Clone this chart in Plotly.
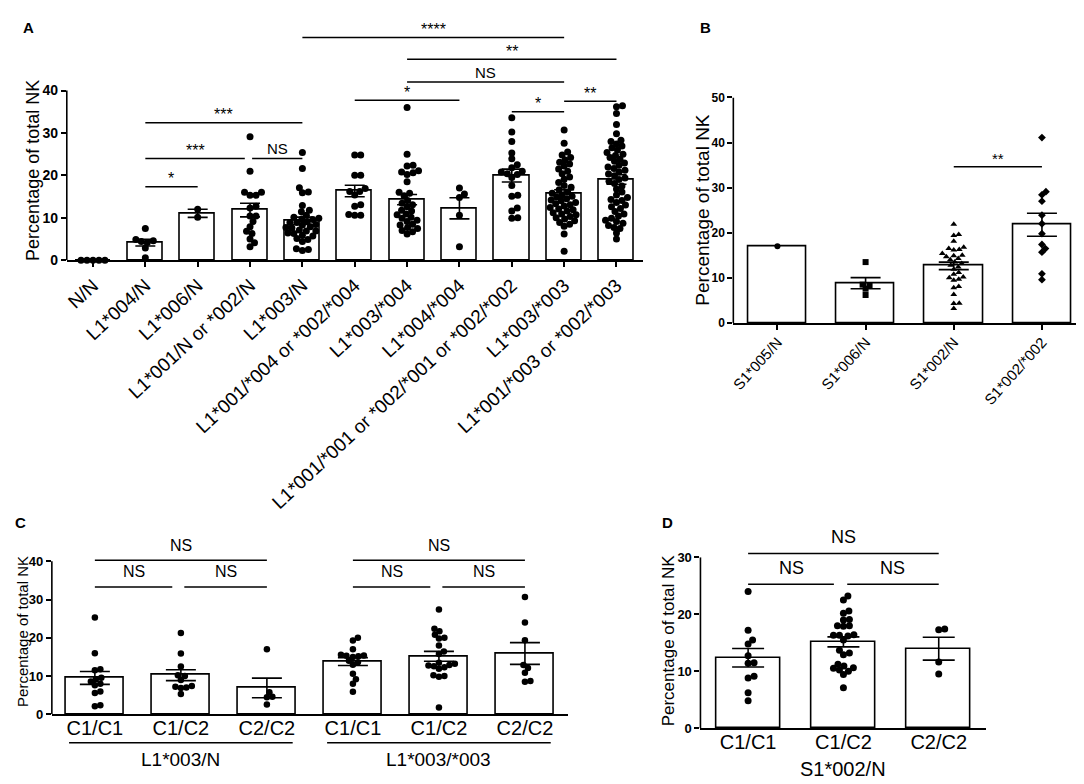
import numpy as np
import plotly.graph_objects as go

W, H = 1084, 784
FONT = "Liberation Sans, Arial, sans-serif"

# ---------------- Panel A data ----------------
A_cats = ["N/N", "L1*004/N", "L1*006/N", "L1*001/N or *002/N", "L1*003/N",
          "L1*001/*004 or *002/*004", "L1*003/*004", "L1*004/*004",
          "L1*001/*001 or *002/*001 or *002/*002", "L1*003/*003",
          "L1*001/*003 or *002/*003"]
A_NN = [0, 0, 0, 0, 0]
A_L004N = [7.5, 4.9, 4.6, 4.4, 4.2, 2.9, 0.6]
A_L006N = [12.0, 10.1]
A_L001N = [29.1, 21.0, 16.0, 15.3, 15.3, 16.0, 12.7, 12.3, 10.4, 10.4, 9.1, 7.9, 6.8, 6.3, 5.0, 4.1, 3.2]
A_L003N = [25.4, 21.6, 17.1, 16.1, 15.9, 12.9, 11.8, 11.4, 10.6, 10.1, 9.9, 9.7, 9.6, 9.1, 8.9, 8.9, 8.4,
           8.3, 7.9, 7.7, 7.6, 7.1, 6.9, 6.9, 6.4, 6.3, 5.9, 5.7, 5.1, 4.9, 4.4, 2.7, 2.5, 2.3]
A_L001_004 = [24.8, 24.8, 20.0, 20.0, 16.9, 16.2, 16.2, 15.4, 13.1, 12.7, 10.8, 10.6, 10.6]
A_L003_004 = [36.0, 25.0, 22.4, 22.2, 21.1, 20.8, 20.6, 20.2, 18.5, 16.0, 15.8, 15.2, 14.1, 13.4, 13.1, 12.6,
              11.8, 11.6, 10.9, 10.7, 10.1, 9.9, 9.4, 9.1, 8.5, 8.3, 7.7, 7.5, 7.0, 6.7, 6.2]
A_L004_004 = [17.0, 15.6, 14.8, 10.6, 3.2]
A_L001_001 = [33.6, 30.2, 28.0, 25.3, 23.9, 22.5, 21.8, 21.0, 20.8, 20.2, 19.5, 20.4, 17.6, 15.3, 15.1,
              12.3, 11.6, 9.9, 10.0]
A_L003_003 = [30.7, 27.6, 25.5, 24.8, 24.2, 23.6, 23.1, 22.7, 22.2, 21.5, 21.0, 20.4, 19.6, 19.1, 18.3, 17.6,
              17.2, 16.6, 16.1, 15.8, 15.4, 15.1, 14.9, 14.5, 14.2, 14.0, 13.6, 13.3, 13.1, 12.8, 12.4, 12.1,
              11.9, 11.6, 11.2, 10.9, 10.7, 10.3, 10.0, 9.7, 9.3, 8.9, 8.5, 8.0, 6.2, 2.1]
A_L001_003 = [36.4, 36.2, 34.6, 32.0, 29.8, 28.3, 28.0, 27.4, 26.9, 26.5, 26.0, 25.4, 25.0, 24.7, 24.2, 23.8,
              23.3, 22.9, 22.4, 22.0, 21.6, 21.2, 20.8, 20.3, 19.9, 19.4, 19.0, 18.6, 18.1, 17.5, 16.8, 16.1,
              15.4, 14.8, 14.3, 14.1, 13.6, 13.0, 12.6, 12.2, 11.5, 10.9, 10.4, 9.9, 9.4, 9.1, 8.7, 8.2, 7.7,
              7.5, 6.4, 5.0]
A_vals = [A_NN, A_L004N, A_L006N, A_L001N, A_L003N, A_L001_004, A_L003_004, A_L004_004,
          A_L001_001, A_L003_003, A_L001_003]
A_comps = [(1, 2, 17.3, "*"), (1, 3, 24.0, "***"), (3, 4, 24.0, "NS"), (1, 4, 32.4, "***"),
           (5, 7, 37.7, "*"), (8, 9, 35.0, "*"), (9, 10, 37.5, "**"), (6, 9, 42.0, "NS"),
           (6, 10, 47.4, "**"), (4, 9, 52.5, "****")]
A_yticks = [0, 10, 20, 30, 40]

# ---------------- Panel B data ----------------
B_cats = ["S1*005/N", "S1*006/N", "S1*002/N", "S1*002/*002"]
B_S005N = [17.0]
B_S006N = [13.5, 8.5, 8.3, 7.6, 6.2]
B_S002N = [21.9, 19.6, 19.4, 18.1, 16.8, 16.5, 16.3, 16.2, 15.4, 15.0, 14.9, 14.7, 14.3, 14.0, 13.5, 13.2,
           12.8, 12.4, 11.9, 11.2, 10.8, 10.2, 10.0, 9.7, 9.5, 8.1, 7.8, 6.3, 4.4, 4.3, 3.2]
B_S002_002 = [41.1, 29.1, 28.4, 27.0, 23.9, 22.0, 19.8, 17.4, 16.5, 15.7, 10.9, 9.6]
B_vals = [B_S005N, B_S006N, B_S002N, B_S002_002]
B_comps = [(2, 3, 34.6, "**")]
B_yticks = [0, 10, 20, 30, 40, 50]

# ---------------- Panel C data ----------------
C_cats = ["C1/C1", "C1/C2", "C2/C2", "C1/C1", "C1/C2", "C2/C2"]
C_groups = ["L1*003/N", "L1*003/*003"]
C_vals = [
    [25.3, 16.0, 11.8, 11.5, 9.6, 9.2, 8.6, 8.0, 7.6, 6.0, 5.6, 2.4, 2.1],
    [21.3, 15.9, 12.5, 10.2, 10.0, 9.0, 7.4, 7.2, 7.0, 6.9, 5.3],
    [17.0, 5.8, 4.6, 4.5, 2.6],
    [20.0, 19.3, 17.0, 15.6, 15.4, 15.3, 15.2, 15.0, 14.0, 13.6, 13.0, 10.6, 9.2, 8.0, 5.9],
    [27.4, 22.4, 21.7, 20.8, 20.0, 19.8, 18.0, 16.4, 15.8, 13.5, 13.2, 12.9, 12.8, 12.6, 12.3, 11.9,
     10.2, 10.0, 9.8, 1.8],
    [30.7, 24.0, 19.4, 12.9, 12.1, 10.9, 8.7, 8.5],
]
C_comps = [(0, 2, 40.3, "NS"), (0, 1, 33.3, "NS"), (1, 2, 33.3, "NS"),
           (3, 5, 40.3, "NS"), (3, 4, 33.3, "NS"), (4, 5, 33.3, "NS")]
C_yticks = [0, 10, 20, 30, 40]

# ---------------- Panel D data ----------------
D_cats = ["C1/C1", "C1/C2", "C2/C2"]
D_group = "S1*002/N"
D_vals = [
    [24.0, 17.2, 15.5, 14.8, 12.7, 11.5, 11.4, 9.1, 8.8, 6.2, 4.8],
    [23.2, 22.5, 20.6, 20.2, 19.1, 19.0, 18.0, 18.0, 17.9, 16.4, 16.3, 16.3, 16.2, 15.5, 13.7, 13.2,
     12.9, 11.2, 10.9, 10.6, 10.5, 10.2, 10.0, 9.4, 7.1],
    [17.3, 17.4, 11.6, 9.5],
]
D_comps = [(0, 2, 30.7, "NS"), (0, 1, 25.3, "NS"), (1, 2, 25.3, "NS")]
D_yticks = [0, 10, 20, 30]

Y_TITLE = "Percentage of total NK"


# ---------------- styling / layout config ----------------
def px2x(p):
    return p / W


def px2y(p):
    return 1 - p / H


panels = [
    dict(k="", cats=A_cats, vals=A_vals, comps=A_comps, yticks=A_yticks, yrange=[0, 56],
         xdom=[55 / W, 633 / W], ydom=[px2y(250), px2y(7.8)], symbols=["circle"] * 11, msize=7,
         barw=0.67, cap=10, tickangle=-43, xfont=19, yfont=14, xticks="outside", standoff=0,
         star_font=16, ns_font=15, shift=10, title_font=18, title_xy=(21, 158),
         letter="A", letter_xy=(17, 13)),
    dict(k="2", cats=B_cats, vals=B_vals, comps=B_comps, yticks=B_yticks, yrange=[0, 50],
         xdom=[724 / W, 1078 / W], ydom=[px2y(314), px2y(84)],
         symbols=["circle", "square", "triangle-up", "diamond"], msize=6,
         barw=0.66, cap=15, tickangle=-48, xfont=15, yfont=12, xticks="outside", standoff=-2,
         star_font=15, ns_font=14, shift=10, title_font=19, title_xy=(693, 199),
         letter="B", letter_xy=(696, 13)),
    dict(k="3", cats=C_cats, vals=C_vals, comps=C_comps, yticks=C_yticks, yrange=[0, 42],
         xdom=[40 / W, 558 / W], ydom=[px2y(713), px2y(549.2)], symbols=["circle"] * 6, msize=6.5,
         barw=0.67, cap=15, tickangle=0, xfont=20, yfont=13, xticks="", standoff=-5,
         star_font=16, ns_font=16, shift=15, title_font=15, title_xy=(11, 628),
         letter="C", letter_xy=(9, 517)),
    dict(k="4", cats=D_cats, vals=D_vals, comps=D_comps, yticks=D_yticks, yrange=[0, 32],
         xdom=[691 / W, 978 / W], ydom=[px2y(727), px2y(541.4)], symbols=["circle"] * 3, msize=7,
         barw=0.67, cap=16, tickangle=0, xfont=20, yfont=13, xticks="", standoff=-5,
         star_font=18, ns_font=18, shift=16, title_font=17, title_xy=(659, 638),
         letter="D", letter_xy=(658, 517)),
]


def swarm(values, diam, ypx):
    """Deterministic beeswarm offsets (pixels) for one column."""
    order = sorted(range(len(values)), key=lambda i: values[i])
    placed = []
    offs = [0.0] * len(values)
    step = 0.5
    for i in order:
        y = values[i] * ypx
        k = 0
        while True:
            c = 0.0 if k == 0 else ((k + 1) // 2) * step * (1 if k % 2 else -1)
            ok = True
            for (py, pxx) in placed:
                if (c - pxx) ** 2 + (y - py) ** 2 < diam ** 2:
                    ok = False
                    break
            if ok:
                break
            k += 1
        placed.append((y, c))
        offs[i] = c
    return offs


fig = go.Figure()
shapes = []
annotations = []
layout_axes = {}

for P in panels:
    k = P["k"]
    xa, ya = "x" + k, "y" + k
    n = len(P["cats"])
    xpx = (P["xdom"][1] - P["xdom"][0]) * W / n
    ypx = (P["ydom"][1] - P["ydom"][0]) * H / (P["yrange"][1] - P["yrange"][0])

    means = [float(np.mean(v)) for v in P["vals"]]
    sems = [float(np.std(v, ddof=1) / np.sqrt(len(v))) if len(v) > 1 else 0.0 for v in P["vals"]]

    fig.add_trace(go.Bar(x=list(range(n)), y=means, width=P["barw"], xaxis=xa, yaxis=ya,
                         marker=dict(color="white", line=dict(color="black", width=1.6)),
                         cliponaxis=False, hoverinfo="skip"))

    for i, v in enumerate(P["vals"]):
        offs = swarm(v, P["msize"] * 0.84, ypx)
        fig.add_trace(go.Scatter(x=[i + o / xpx for o in offs], y=v, mode="markers",
                                 xaxis=xa, yaxis=ya, cliponaxis=False, hoverinfo="skip",
                                 marker=dict(color="black", size=P["msize"], symbol=P["symbols"][i],
                                             line=dict(width=0))))

    ei = [i for i in range(n) if len(P["vals"][i]) > 1 and sems[i] > 0]
    fig.add_trace(go.Scatter(x=ei, y=[means[i] for i in ei], mode="markers", xaxis=xa, yaxis=ya,
                             marker=dict(size=1, color="rgba(0,0,0,0)"), cliponaxis=False,
                             hoverinfo="skip",
                             error_y=dict(type="data", array=[sems[i] for i in ei], color="black",
                                          thickness=1.6, width=P["cap"])))

    layout_axes["xaxis" + k] = dict(domain=P["xdom"], range=[-0.5, n - 0.5], anchor=ya,
                                    tickvals=list(range(n)), ticktext=P["cats"], ticks=P["xticks"],
                                    ticklen=5, tickwidth=1.5, tickcolor="black", showline=True,
                                    linecolor="black", linewidth=1.6, showgrid=False, zeroline=False,
                                    tickangle=P["tickangle"], fixedrange=True,
                                    ticklabelstandoff=P["standoff"],
                                    tickfont=dict(family=FONT, size=P["xfont"], color="black"))
    layout_axes["yaxis" + k] = dict(domain=P["ydom"], range=P["yrange"], anchor=xa,
                                    tickvals=P["yticks"], ticks="outside", ticklen=5, tickwidth=1.5,
                                    tickcolor="black", showline=False, showgrid=False, zeroline=False,
                                    fixedrange=True,
                                    tickfont=dict(family=FONT, size=P["yfont"], color="black",
                                                  weight="bold"))
    # y axis line only up to the last tick
    shapes.append(dict(type="line", xref=xa + " domain", yref=ya, x0=0, x1=0,
                       y0=P["yticks"][0], y1=P["yticks"][-1], line=dict(color="black", width=1.6)))

    # significance brackets
    for (a, b, h, lab) in P["comps"]:
        x0, x1 = a, b
        for (a2, b2, h2, _) in P["comps"]:
            if h2 == h and a2 == b:
                x1 -= 0.1
            if h2 == h and b2 == a:
                x0 += 0.04
        shapes.append(dict(type="line", xref=xa, yref=ya, x0=x0, x1=x1, y0=h, y1=h,
                           line=dict(color="black", width=1.5)))
        is_star = "*" in lab
        annotations.append(dict(x=(x0 + x1) / 2, y=h, xref=xa, yref=ya, text=lab, showarrow=False,
                                yanchor="middle", yshift=P["shift"] - (2 if is_star else 0),
                                font=dict(family=FONT, size=P["star_font"] if is_star else P["ns_font"],
                                          color="black")))

    # axis title
    tx, ty = P["title_xy"]
    annotations.append(dict(x=px2x(tx), y=px2y(ty), xref="paper", yref="paper", text=Y_TITLE,
                            textangle=-90, showarrow=False, xanchor="center", yanchor="middle",
                            font=dict(family=FONT, size=P["title_font"], color="black")))
    lx, ly = P["letter_xy"]
    annotations.append(dict(x=px2x(lx), y=px2y(ly), xref="paper", yref="paper", text=P["letter"],
                            showarrow=False, xanchor="center", yanchor="middle",
                            font=dict(family=FONT, size=15, color="black", weight="bold")))

# group labels for C (domain fractions computed from category positions)
nC = len(C_cats)
for g, name in enumerate(C_groups):
    c = g * 3 + 1
    shapes.append(dict(type="line", xref="x3 domain", yref="paper",
                       x0=(c - 1.3 + 0.5) / nC, x1=(c + 1.3 + 0.5) / nC,
                       y0=px2y(742), y1=px2y(742), line=dict(color="black", width=1.5)))
    annotations.append(dict(x=c, y=px2y(759), xref="x3", yref="paper", text=name, showarrow=False,
                            xanchor="center", yanchor="middle",
                            font=dict(family=FONT, size=19, color="black")))
# group label for D
annotations.append(dict(x=1, y=px2y(769), xref="x4", yref="paper", text=D_group, showarrow=False,
                        xanchor="center", yanchor="middle", font=dict(family=FONT, size=20, color="black")))

fig.update_layout(width=W, height=H, margin=dict(l=0, r=0, t=0, b=0), paper_bgcolor="white",
                  plot_bgcolor="white", showlegend=False, bargap=0, shapes=shapes,
                  annotations=annotations, font=dict(family=FONT, color="black"), **layout_axes)

fig.write_html("out.html")
